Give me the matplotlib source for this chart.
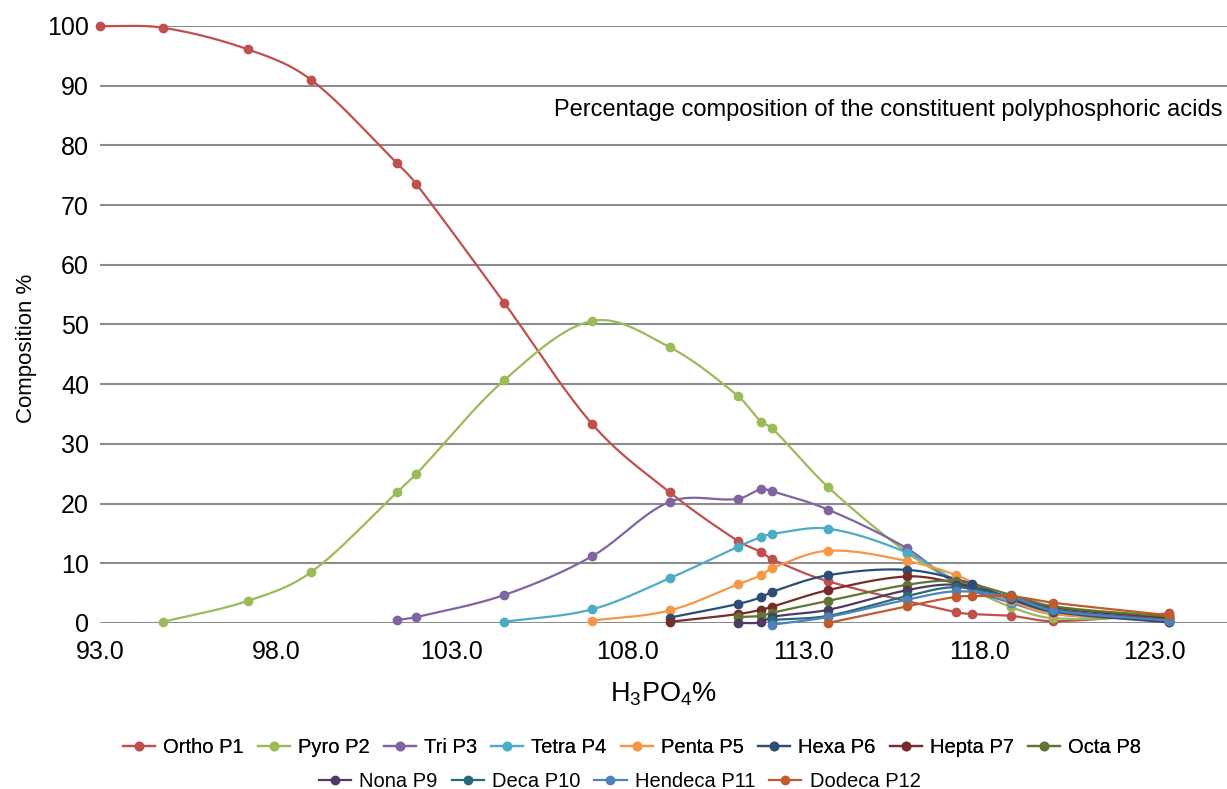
import numpy as np
import matplotlib
matplotlib.use("Agg")
import matplotlib.pyplot as plt
from matplotlib.lines import Line2D

plt.rcParams["font.family"] = ["Liberation Sans", "DejaVu Sans"]
plt.rcParams["mathtext.fontset"] = "custom"
plt.rcParams["mathtext.rm"] = "Liberation Sans"
plt.rcParams["mathtext.default"] = "regular"

# ---- data ----
names = ["Ortho P1", "Pyro P2", "Tri P3", "Tetra P4", "Penta P5", "Hexa P6",
         "Hepta P7", "Octa P8", "Nona P9", "Deca P10", "Hendeca P11", "Dodeca P12"]
colors = ["#c0504d", "#9bbb59", "#8064a2", "#4bacc6", "#f79646", "#2c4d75",
          "#772c2a", "#5f7530", "#4d3b62", "#276a7c", "#4f81bd", "#bf5b2c"]

ortho_x = [93.0, 94.8, 97.2, 99.0, 101.45, 102.0, 104.5, 107.0, 109.2, 111.15, 111.8, 112.1,
           113.7, 117.35, 117.8, 118.9, 120.1, 123.4]
ortho_y = [100, 99.7, 96.1, 91.0, 77.0, 73.5, 53.6, 33.3, 21.9, 13.7, 11.9, 10.7,
           7.0, 1.8, 1.5, 1.2, 0.3, 1.6]

pyro_x = [94.8, 97.2, 99.0, 101.45, 102.0, 104.5, 107.0, 109.2, 111.15, 111.8, 112.1,
          113.7, 115.95, 117.35, 118.9, 120.1, 123.4]
pyro_y = [0.2, 3.7, 8.5, 21.9, 25.0, 40.7, 50.6, 46.2, 38.0, 33.7, 32.7,
          22.8, 11.8, 6.9, 2.7, 0.8, 1.2]

tri_x = [101.45, 102.0, 104.5, 107.0, 109.2, 111.15, 111.8, 112.1, 113.7, 115.95, 117.35,
         118.9, 120.1, 123.4]
tri_y = [0.5, 1.0, 4.7, 11.2, 20.3, 20.8, 22.4, 22.1, 19.0, 12.5, 6.6, 3.4, 1.5, 0.6]

tetra_x = [104.5, 107.0, 109.2, 111.15, 111.8, 112.1, 113.7, 115.95, 117.35, 118.9, 120.1, 123.4]
tetra_y = [0.2, 2.3, 7.5, 12.8, 14.4, 14.9, 15.8, 11.8, 7.1, 3.6, 1.8, 0.7]

penta_x = [107.0, 109.2, 111.15, 111.8, 112.1, 113.7, 115.95, 117.35, 118.9, 120.1, 123.4]
penta_y = [0.4, 2.1, 6.5, 8.0, 9.2, 12.1, 10.4, 8.0, 3.8, 1.5, 0.9]

hexa_x = [109.2, 111.15, 111.8, 112.1, 113.7, 115.95, 117.8, 118.9, 120.1, 123.4]
hexa_y = [0.9, 3.2, 4.3, 5.2, 8.0, 8.9, 6.6, 4.0, 1.9, 0.1]

hepta_x = [109.2, 111.15, 111.8, 112.1, 113.7, 115.95, 117.35, 118.9, 120.1, 123.4]
hepta_y = [0.2, 1.5, 2.2, 2.7, 5.5, 7.8, 6.7, 4.3, 2.6, 0.8]

octa_x = [111.15, 111.8, 112.1, 113.7, 115.95, 117.35, 118.9, 120.1, 123.4]
octa_y = [1.0, 1.2, 1.7, 3.7, 6.4, 7.0, 4.7, 2.8, 1.1]

nona_x = [111.15, 111.8, 112.1, 113.7, 115.95, 117.35, 118.9, 120.1, 123.4]
nona_y = [0.0, 0.1, 1.0, 2.2, 5.5, 6.4, 4.2, 2.2, 0.2]

deca_x = [112.1, 113.7, 115.95, 117.35, 118.9, 120.1, 123.4]
deca_y = [0.5, 1.2, 4.5, 6.0, 4.3, 2.3, 0.5]

hendeca_x = [112.1, 113.7, 115.95, 117.35, 118.9, 120.1, 123.4]
hendeca_y = [-0.3, 1.0, 3.9, 5.3, 4.3, 2.1, 0.4]

dodeca_x = [113.7, 115.95, 117.35, 117.8, 118.9, 120.1, 123.4]
dodeca_y = [0.0, 2.8, 4.4, 4.5, 4.5, 3.4, 1.3]

series_x = [ortho_x, pyro_x, tri_x, tetra_x, penta_x, hexa_x,
            hepta_x, octa_x, nona_x, deca_x, hendeca_x, dodeca_x]
series_y = [ortho_y, pyro_y, tri_y, tetra_y, penta_y, hexa_y,
            hepta_y, octa_y, nona_y, deca_y, hendeca_y, dodeca_y]

x_ticks = [93.0, 98.0, 103.0, 108.0, 113.0, 118.0, 123.0]
y_ticks = list(range(0, 101, 10))


def smooth(x, y, n=24):
    # cubic hermite through the points, tangents from neighbours
    x = np.asarray(x, float)
    y = np.asarray(y, float)
    if len(x) < 3:
        return x, y
    m = np.empty_like(y)
    m[1:-1] = (y[2:] - y[:-2]) / (x[2:] - x[:-2])
    m[0] = (y[1] - y[0]) / (x[1] - x[0])
    m[-1] = (y[-1] - y[-2]) / (x[-1] - x[-2])
    t = np.linspace(0, 1, n)
    h00 = 2 * t**3 - 3 * t**2 + 1
    h10 = t**3 - 2 * t**2 + t
    h01 = -2 * t**3 + 3 * t**2
    h11 = t**3 - t**2
    xs, ys = [], []
    for i in range(len(x) - 1):
        h = x[i + 1] - x[i]
        xs.append(x[i] + t * h)
        ys.append(h00 * y[i] + h10 * h * m[i] + h01 * y[i + 1] + h11 * h * m[i + 1])
    return np.concatenate(xs), np.concatenate(ys)


fig = plt.figure(figsize=(12.27, 7.89), dpi=100)
ax = fig.add_axes([100 / 1227, 166 / 789, 1127 / 1227, 597 / 789])

for xs, ys, c in zip(series_x, series_y, colors):
    sx, sy = smooth(xs, ys)
    ax.plot(sx, sy, color=c, lw=1.6, clip_on=False, zorder=3)
    ax.plot(xs, ys, "o", color=c, ms=6, clip_on=False, zorder=4)

ax.set_xlim(93, 125.05)
ax.set_ylim(0, 100)
ax.set_xticks(x_ticks)
ax.set_xticklabels([f"{v:.1f}" for v in x_ticks])
ax.set_yticks(y_ticks)
ax.tick_params(axis="both", length=0, labelsize=18)
ax.tick_params(axis="x", pad=12)
ax.tick_params(axis="y", pad=8)
ax.grid(axis="y", color="#8c8c8c", lw=1.5)
ax.set_axisbelow(True)
for s in ax.spines.values():
    s.set_visible(False)

ax.set_xlabel("H$_3$PO$_4$%", fontsize=19.5, labelpad=12)
ax.set_ylabel("Composition %", fontsize=16)
ax.yaxis.set_label_coords(-0.056, 0.46)
ax.text(0.996, 86, "Percentage composition of the constituent polyphosphoric acids",
        transform=ax.get_yaxis_transform(), ha="right", va="center", fontsize=17)

handles = [Line2D([], [], color=c, lw=1.6, marker="o", ms=6) for c in colors]
leg1 = fig.legend(handles[:8], names[:8], loc="center", bbox_to_anchor=(0.515, 0.052),
                  ncol=8, frameon=False, fontsize=14.5, handlelength=1.6,
                  handletextpad=0.4, columnspacing=0.7)
fig.add_artist(leg1)
fig.legend(handles[8:], names[8:], loc="center", bbox_to_anchor=(0.505, 0.010),
           ncol=4, frameon=False, fontsize=14.5, handlelength=1.6,
           handletextpad=0.4, columnspacing=0.7)

fig.savefig("out.png", dpi=100)
